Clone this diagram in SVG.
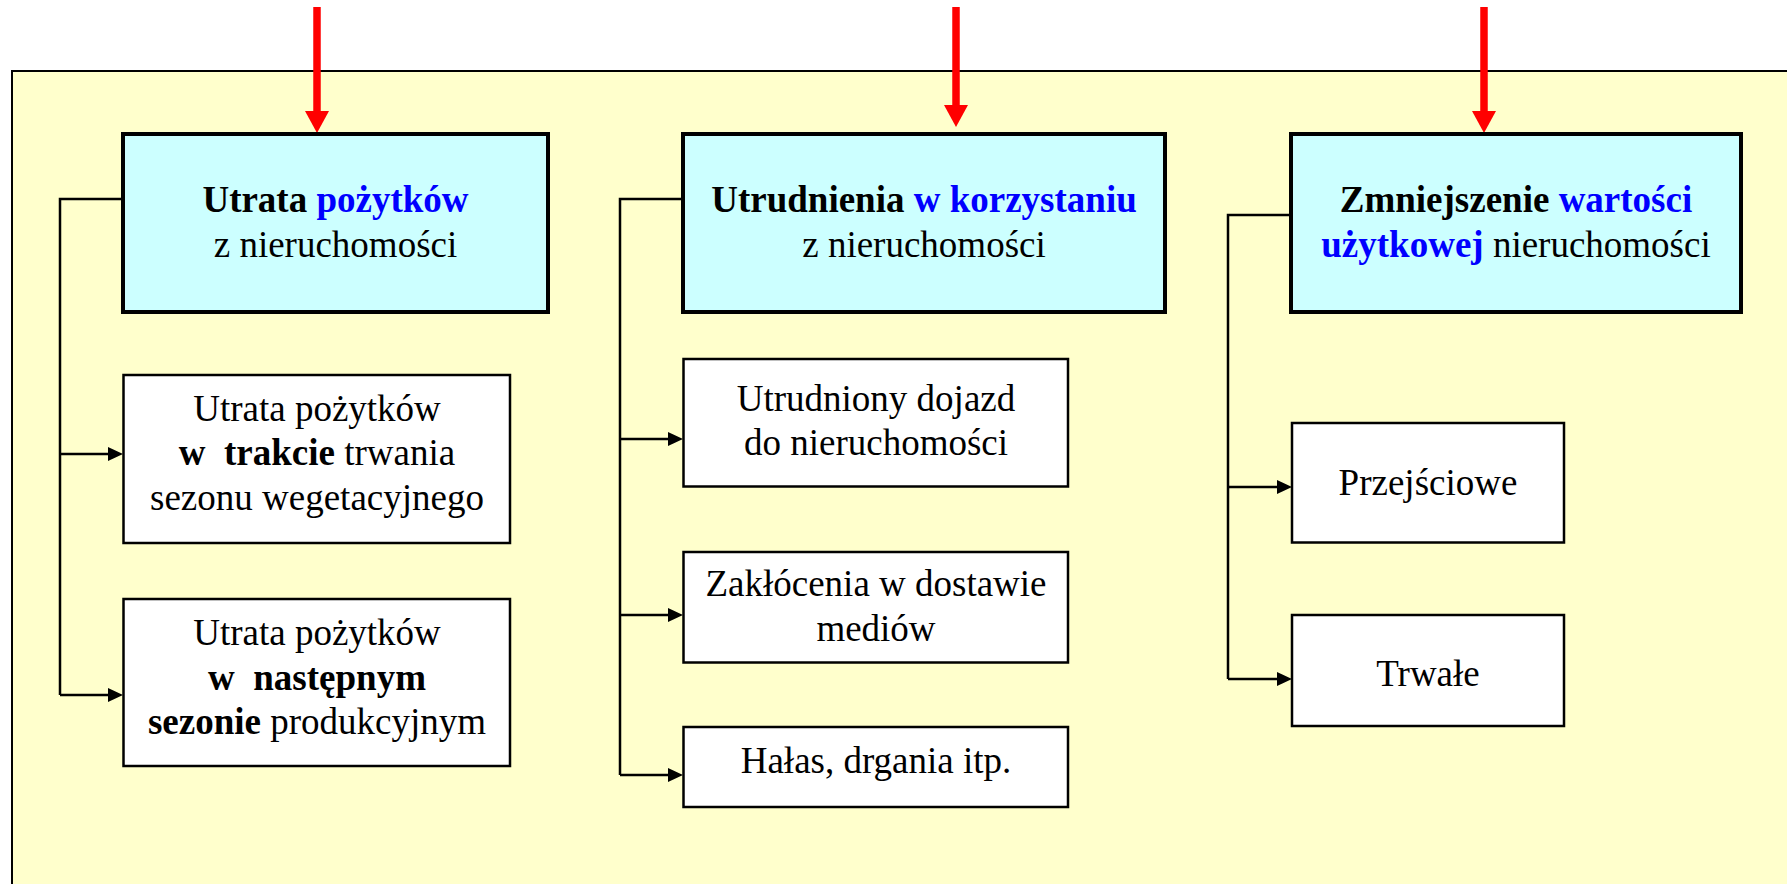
<svg xmlns="http://www.w3.org/2000/svg" width="1787" height="884" viewBox="0 0 1787 884">
<style>
.t{font-family:"Liberation Serif","Times New Roman",serif;font-size:37px;fill:#000;text-anchor:middle;white-space:pre}
.b{font-weight:bold}
.bl{fill:#0000FF;font-weight:bold}
.hdr{fill:#CCFFFF;stroke:#000;stroke-width:4}
.box{fill:#FFFFFF;stroke:#000;stroke-width:2.5}
.ln{fill:none;stroke:#000;stroke-width:2.5}
.red{stroke:#FF0000;stroke-width:7.5}
</style>
<defs>
<marker id="rh" markerUnits="userSpaceOnUse" markerWidth="22" markerHeight="24" refX="0" refY="12" orient="auto">
<path d="M0,0 L22,12 L0,24 z" fill="#FF0000"/>
</marker>
<marker id="ah" markerUnits="userSpaceOnUse" markerWidth="15" markerHeight="14" refX="0" refY="7" orient="auto">
<path d="M0,0 L15,7 L0,14 z" fill="#000"/>
</marker>
</defs>
<rect id="panel" x="12" y="71" width="1800" height="840" fill="#FFFFCC" stroke="#000" stroke-width="2"/>
<g id="connectors">
<line class="red" x1="317" y1="7" x2="317" y2="111" marker-end="url(#rh)"/>
<line class="red" x1="956" y1="7" x2="956" y2="105" marker-end="url(#rh)"/>
<line class="red" x1="1484" y1="7" x2="1484" y2="111" marker-end="url(#rh)"/>
<polyline class="ln" points="123,199 60,199 60,695"/>
<line class="ln" x1="60" y1="454" x2="108" y2="454" marker-end="url(#ah)"/>
<line class="ln" x1="60" y1="695" x2="108" y2="695" marker-end="url(#ah)"/>
<polyline class="ln" points="683,199 620,199 620,775"/>
<line class="ln" x1="620" y1="439" x2="668" y2="439" marker-end="url(#ah)"/>
<line class="ln" x1="620" y1="615" x2="668" y2="615" marker-end="url(#ah)"/>
<line class="ln" x1="620" y1="775" x2="668" y2="775" marker-end="url(#ah)"/>
<polyline class="ln" points="1291,215 1228,215 1228,679"/>
<line class="ln" x1="1228" y1="487" x2="1277" y2="487" marker-end="url(#ah)"/>
<line class="ln" x1="1228" y1="679" x2="1277" y2="679" marker-end="url(#ah)"/>
</g>
<g id="h1">
<rect class="hdr" x="123" y="134" width="425" height="178"/>
<text class="t" x="335.5" y="212"><tspan class="b">Utrata </tspan><tspan class="bl">pożytków</tspan></text>
<text class="t" x="335.5" y="257">z nieruchomości</text>
</g>
<g id="h2">
<rect class="hdr" x="683" y="134" width="482" height="178"/>
<text class="t" x="924" y="212"><tspan class="b">Utrudnienia </tspan><tspan class="bl">w korzystaniu</tspan></text>
<text class="t" x="924" y="257">z nieruchomości</text>
</g>
<g id="h3">
<rect class="hdr" x="1291" y="134" width="450" height="178"/>
<text class="t" x="1516" y="212"><tspan class="b">Zmniejszenie </tspan><tspan class="bl">wartości</tspan></text>
<text class="t" x="1516" y="257"><tspan class="bl">użytkowej</tspan> nieruchomości</text>
</g>
<g id="n1a">
<rect class="box" x="123.5" y="375" width="386.5" height="168"/>
<text class="t" x="317" y="421">Utrata pożytków</text>
<text class="t" x="317" y="465"><tspan class="b">w  trakcie</tspan> trwania</text>
<text class="t" x="317" y="510">sezonu wegetacyjnego</text>
</g>
<g id="n1b">
<rect class="box" x="123.5" y="599" width="386.5" height="167"/>
<text class="t" x="317" y="645">Utrata pożytków</text>
<text class="t b" x="317" y="690">w  następnym</text>
<text class="t" x="317" y="734"><tspan class="b">sezonie</tspan> produkcyjnym</text>
</g>
<g id="n2a">
<rect class="box" x="683.5" y="359" width="384.5" height="127.5"/>
<text class="t" x="876" y="411">Utrudniony dojazd</text>
<text class="t" x="876" y="455">do nieruchomości</text>
</g>
<g id="n2b">
<rect class="box" x="683.5" y="552" width="384.5" height="110.5"/>
<text class="t" x="876" y="596">Zakłócenia w dostawie</text>
<text class="t" x="876" y="641">mediów</text>
</g>
<g id="n2c">
<rect class="box" x="683.5" y="727" width="384.5" height="80"/>
<text class="t" x="876" y="773">Hałas, drgania itp.</text>
</g>
<g id="n3a">
<rect class="box" x="1292" y="423" width="272" height="119.5"/>
<text class="t" x="1428" y="495">Przejściowe</text>
</g>
<g id="n3b">
<rect class="box" x="1292" y="615" width="272" height="111"/>
<text class="t" x="1428" y="686">Trwałe</text>
</g>
</svg>
